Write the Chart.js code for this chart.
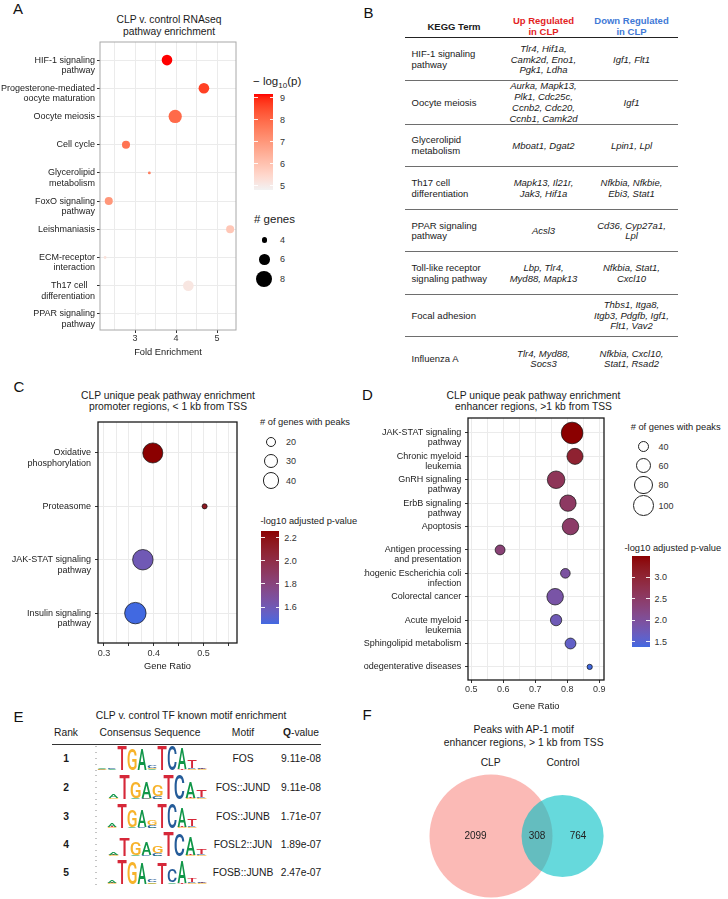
<!DOCTYPE html>
<html>
<head>
<meta charset="utf-8">
<script src="https://cdn.jsdelivr.net/npm/chart.js@4.4.1/dist/chart.umd.min.js"></script>
<style>
html,body{margin:0;padding:0;background:#fff}
body{position:relative;width:728px;height:899px;overflow:hidden;font-family:"Liberation Sans",Arial,Helvetica,sans-serif;color:#1a1a1a}
.t{position:absolute;white-space:pre;line-height:1}
canvas{position:absolute;display:block}
sub{font-size:70%;vertical-align:-0.3em;line-height:0}
</style>
</head>
<body>
<script>
// ================= DATA =================
// Panel A : CLP v. control RNAseq pathway enrichment
const aPathways = [["HIF-1 signaling","pathway"],["Progesterone-mediated","oocyte maturation"],["Oocyte meiosis"],["Cell cycle"],["Glycerolipid","metabolism"],["FoxO signaling","pathway"],["Leishmaniasis"],["ECM-receptor","interaction"],["Th17 cell   ","differentiation"],["PPAR signaling","pathway"]];
const aFoldEnrichment = [3.78,4.68,3.98,2.78,3.35,2.36,5.32,2.27,4.30,3.07];
const aNegLog10P = [9.15,8.65,7.95,7.75,7.55,7.00,5.85,5.20,5.10,4.80];
const aGeneCount = [6,6,7,5,3,5,5,3,6,3];
const aFoldTicks = [3,4,5];
const aSizeBreaks = [4,6,8];
const aColorBreaks = [9,8,7,6,5];

// Panel B : KEGG table
const bTerms = [["HIF-1 signaling","pathway"],["Oocyte meiosis"],["Glycerolipid","metabolism"],["Th17 cell","differentiation"],["PPAR signaling","pathway"],["Toll-like receptor","signaling pathway"],["Focal adhesion"],["Influenza A"]];
const bUp = [["Tlr4, Hif1a,","Camk2d, Eno1,","Pgk1, Ldha"],["Aurka, Mapk13,","Plk1, Cdc25c,","Ccnb2, Cdc20,","Ccnb1, Camk2d"],["Mboat1, Dgat2"],["Mapk13, Il21r,","Jak3, Hif1a"],["Acsl3"],["Lbp, Tlr4,","Myd88, Mapk13"],[],["Tlr4, Myd88,","Socs3"]];
const bDown = [["Igf1, Flt1"],["Igf1"],["Lpin1, Lpl"],["Nfkbia, Nfkbie,","Ebi3, Stat1"],["Cd36, Cyp27a1,","Lpl"],["Nfkbia, Stat1,","Cxcl10"],["Thbs1, Itga8,","Itgb3, Pdgfb, Igf1,","Flt1, Vav2"],["Nfkbia, Cxcl10,","Stat1, Rsad2"]];

// Panel C : promoter regions
const cPathways = [["Oxidative","phosphorylation"],["Proteasome"],["JAK-STAT signaling","pathway"],["Insulin signaling","pathway"]];
const cGeneRatio = [0.398,0.502,0.378,0.363];
const cNegLog10Padj = [2.26,2.15,1.60,1.45];
const cGeneCount = [55,9,57,62];
const cRatioTicks = [0.3,0.4,0.5];
const cSizeBreaks = [20,30,40];
const cColorBreaks = [2.2,2.0,1.8,1.6];

// Panel D : enhancer regions
const dPathways = [["JAK-STAT signaling","pathway"],["Chronic myeloid","leukemia"],["GnRH signaling","pathway"],["ErbB signaling","pathway"],["Apoptosis"],["Antigen processing","and presentation"],["Pathogenic Escherichia coli","infection"],["Colorectal cancer"],["Acute myeloid","leukemia"],["Sphingolipid metabolism"],["Neurodegenterative diseases"]];
const dGeneRatio = [0.815,0.824,0.765,0.802,0.810,0.590,0.794,0.762,0.765,0.810,0.870];
const dNegLog10Padj = [3.50,3.05,2.65,2.55,2.50,2.35,1.95,1.90,1.75,1.60,1.37];
const dGeneCount = [108,66,76,68,69,34,33,69,40,38,20];
const dRatioTicks = [0.5,0.6,0.7,0.8,0.9];
const dSizeBreaks = [40,60,80,100];
const dColorBreaks = [3.0,2.5,2.0,1.5];

// Panel E : known motif enrichment (logo columns: bits for [A,C,G,T])
const eBases = ["A","C","G","T"];
const eRanks = [1,2,3,4,5];
const eMotifs = ["FOS","FOS::JUND","FOS::JUNB","FOSL2::JUN","FOSB::JUNB"];
const eQValues = ["9.11e-08","9.11e-08","1.71e-07","1.89e-07","2.47e-07"];
const eLogoFOS = [[0.06,0.05,0.05,0.04],[0.05,0.07,0.04,0.04],[0.00,0.02,0.03,1.95],[0.03,0.02,1.80,0.00],[1.72,0.03,0.02,0.02],[0.06,0.18,0.12,0.04],[0.00,0.02,0.02,1.95],[0.02,1.93,0.02,0.00],[1.70,0.03,0.02,0.05],[0.05,0.12,0.06,0.62],[0.05,0.08,0.05,0.05]];
const eLogoFOSJUND = [[0.03,0.03,0.03,0.03],[0.30,0.04,0.06,0.04],[0.00,0.02,0.03,1.95],[0.05,0.03,1.30,0.02],[1.30,0.08,0.05,0.02],[0.05,0.20,0.85,0.03],[0.00,0.02,0.02,1.95],[0.02,1.95,0.02,0.00],[1.35,0.05,0.05,0.05],[0.05,0.15,0.05,0.55]];
const eLogoFOSJUNB = [[0.03,0.03,0.03,0.03],[0.30,0.05,0.05,0.05],[0.00,0.02,0.02,1.95],[0.05,0.03,1.45,0.02],[1.45,0.05,0.03,0.02],[0.05,0.20,0.45,0.03],[0.00,0.02,0.02,1.95],[0.02,1.95,0.02,0.00],[1.55,0.05,0.05,0.05],[0.05,0.15,0.05,0.55],[0.04,0.04,0.04,0.04]];
const eLogoFOSL2JUN = [[0.03,0.03,0.03,0.03],[0.22,0.05,0.05,0.05],[0.00,0.02,0.02,1.50],[0.05,0.03,1.05,0.02],[1.05,0.05,0.03,0.02],[0.05,0.20,0.55,0.03],[0.00,0.02,0.02,1.95],[0.02,1.90,0.02,0.00],[1.50,0.05,0.05,0.05],[0.05,0.12,0.05,0.45]];
const eLogoFOSBJUNB = [[0.03,0.03,0.03,0.03],[0.25,0.05,0.05,0.05],[0.00,0.02,0.02,1.95],[0.03,0.02,1.85,0.00],[1.70,0.03,0.02,0.02],[0.05,0.18,0.12,0.04],[0.00,0.02,0.02,1.70],[0.15,1.10,0.05,0.00],[1.80,0.03,0.02,0.05],[0.05,0.08,0.05,0.35],[0.05,0.06,0.05,0.05]];
const eLogos = [eLogoFOS,eLogoFOSJUND,eLogoFOSJUNB,eLogoFOSL2JUN,eLogoFOSBJUNB];

// Panel F : Venn of peaks with AP-1 motif
const fSets = ["CLP","Control"];
const fUnique = [2099,764];
const fShared = 308;

// ================= HELPERS =================
Chart.defaults.font.family = '"Liberation Sans", Arial, sans-serif';
Chart.defaults.color = '#333';

function T(html, x, y, o = {}) {
  const d = document.createElement('div');
  d.className = 't';
  d.innerHTML = html;
  const s = d.style;
  s.fontSize = (o.size || 9.5) + 'px';
  if (o.bold) s.fontWeight = 'bold';
  if (o.italic) s.fontStyle = 'italic';
  s.color = o.color || '#1a1a1a';
  s.top = y + 'px';
  const al = o.align || 'c';
  if (al === 'c') { s.left = x + 'px'; s.transform = 'translate(-50%,-50%)'; }
  else if (al === 'l') { s.left = x + 'px'; s.transform = 'translateY(-50%)'; }
  else { s.right = (728 - x) + 'px'; s.transform = 'translateY(-50%)'; }
  document.body.appendChild(d);
  return d;
}
function HL(x0, x1, y, color, h) {
  const d = document.createElement('div');
  d.style.cssText = `position:absolute;left:${x0}px;top:${y}px;width:${x1 - x0}px;height:${h || 1}px;background:${color}`;
  document.body.appendChild(d);
}
function mkCanvas(left, top, w, h) {
  const c = document.createElement('canvas');
  c.width = w; c.height = h;
  c.style.left = left + 'px'; c.style.top = top + 'px';
  c.style.width = w + 'px'; c.style.height = h + 'px';
  document.body.appendChild(c);
  return c;
}
function circleDiv(cx, cy, r, fill, stroke, sw) {
  const d = document.createElement('div');
  d.style.cssText = `position:absolute;left:${cx - r}px;top:${cy - r}px;width:${2 * r}px;height:${2 * r}px;border-radius:50%;background:${fill};box-sizing:border-box;border:${sw}px solid ${stroke}`;
  document.body.appendChild(d);
}
// Lab colour interpolation (as ggplot gradients)
function s2l(c) { c /= 255; return c <= 0.04045 ? c / 12.92 : Math.pow((c + 0.055) / 1.055, 2.4); }
function l2s(c) { c = c <= 0.0031308 ? 12.92 * c : 1.055 * Math.pow(c, 1 / 2.4) - 0.055; return Math.round(Math.max(0, Math.min(1, c)) * 255); }
const WP = [0.95047, 1, 1.08883];
function rgb2lab(rgb) {
  const [R, G, B] = rgb.map(s2l);
  const X = (0.4124 * R + 0.3576 * G + 0.1805 * B) / WP[0];
  const Y = (0.2126 * R + 0.7152 * G + 0.0722 * B) / WP[1];
  const Z = (0.0193 * R + 0.1192 * G + 0.9505 * B) / WP[2];
  const f = t => t > 0.008856 ? Math.cbrt(t) : 7.787 * t + 16 / 116;
  const fx = f(X), fy = f(Y), fz = f(Z);
  return [116 * fy - 16, 500 * (fx - fy), 200 * (fy - fz)];
}
function lab2rgb([L, a, b]) {
  const fy = (L + 16) / 116, fx = fy + a / 500, fz = fy - b / 200;
  const fi = t => t > 0.206893 ? t * t * t : (t - 16 / 116) / 7.787;
  const X = fi(fx) * WP[0], Y = fi(fy) * WP[1], Z = fi(fz) * WP[2];
  const R = 3.2406 * X - 1.5372 * Y - 0.4986 * Z;
  const G = -0.9689 * X + 1.8758 * Y + 0.0415 * Z;
  const B = 0.0557 * X - 0.2040 * Y + 1.0570 * Z;
  return [l2s(R), l2s(G), l2s(B)];
}
function gradient(low, high, vmin, vmax) {
  const A = rgb2lab(low), B = rgb2lab(high);
  return v => {
    let t = (v - vmin) / (vmax - vmin); t = Math.max(0, Math.min(1, t));
    const [r, g, b] = lab2rgb([0, 1, 2].map(i => A[i] + (B[i] - A[i]) * t));
    return `rgb(${r},${g},${b})`;
  };
}
const near = (v, arr) => arr.some(a => Math.abs(a - v) < 1e-6);
const isMult = (v, m) => Math.abs(v / m - Math.round(v / m)) < 1e-6;

const framePlugin = {
  id: 'frame',
  afterDatasetsDraw(chart, args, o) {
    if (!o || !o.color) return;
    const a = chart.chartArea, c = chart.ctx;
    c.save(); c.strokeStyle = o.color; c.lineWidth = o.width;
    c.strokeRect(a.left, a.top, a.right - a.left, a.bottom - a.top);
    c.restore();
  }
};

function bubbleChart(el, o) {
  const pts = o.xs.map((x, i) => ({ x: x, y: i, v: o.vs[i], g: o.gs[i] }));
  return new Chart(el, {
    type: 'bubble',
    data: { datasets: [{
      data: pts,
      radius: c => o.rad(c.raw.g),
      backgroundColor: c => o.col(c.raw.v),
      borderColor: o.pointBorder || 'rgba(0,0,0,0)',
      borderWidth: o.pointBorderWidth || 0
    }] },
    options: {
      responsive: false, animation: false, events: [], devicePixelRatio: 1,
      layout: { padding: o.pad, autoPadding: false },
      plugins: { legend: { display: false }, tooltip: { enabled: false }, frame: { color: o.frameColor, width: o.frameWidth } },
      scales: {
        x: {
          type: 'linear', position: 'bottom', min: o.xmin, max: o.xmax,
          afterFit: s => { s.height = o.xh; s.paddingLeft = 0; s.paddingRight = 0; },
          border: { display: false },
          grid: { color: o.gridColor, lineWidth: 1, tickLength: 3, tickColor: c => o.xTickMark(c.tick.value) ? '#333' : 'rgba(0,0,0,0)' },
          ticks: { stepSize: o.xStep, includeBounds: false, autoSkip: false, maxRotation: 0, padding: o.xTickPad, color: '#333', font: { size: 9 }, callback: v => o.xLabel(v) },
          title: { display: true, text: o.xTitle, color: '#1a1a1a', font: { size: 9.3 }, padding: { top: 0, bottom: o.xTitlePb } }
        },
        y: {
          type: 'linear', reverse: true, min: o.ymin, max: o.ymax,
          afterFit: s => { s.width = o.yw; s.paddingTop = 0; s.paddingBottom = 0; },
          border: { display: false },
          grid: { color: o.gridColor, lineWidth: 1, tickLength: 3, tickColor: '#333' },
          ticks: { stepSize: 1, includeBounds: false, autoSkip: false, padding: o.yTickPad, color: '#222', font: { size: 9, lineHeight: o.lh },
            callback: v => { const L = o.labels[Math.round(v)]; if (!L) return ''; return L.length > 1 ? [''].concat(L) : L[0]; } }
        }
      }
    },
    plugins: [framePlugin]
  });
}
function colorbar(x0, x1, y0, y1, vmin, vmax, colFn, breaks, fmt, labelX) {
  const d = document.createElement('div');
  const stops = [];
  for (let i = 0; i <= 30; i++) { const v = vmax - (vmax - vmin) * i / 30; stops.push(`${colFn(v)} ${(i * 100 / 30).toFixed(2)}%`); }
  d.style.cssText = `position:absolute;left:${x0}px;top:${y0}px;width:${x1 - x0}px;height:${y1 - y0}px;background:linear-gradient(to bottom,${stops.join(',')})`;
  document.body.appendChild(d);
  breaks.forEach(b => {
    const y = y0 + (vmax - b) / (vmax - vmin) * (y1 - y0);
    const w = (x1 - x0) * 0.2;
    HL(x0, x0 + w, y - 0.5, 'rgba(255,255,255,0.9)');
    HL(x1 - w, x1, y - 0.5, 'rgba(255,255,255,0.9)');
    T(fmt(b), labelX, y, { align: 'l', size: 9, color: '#333' });
  });
}

// ================= PANEL LETTERS =================
T('A', 18, 8, { size: 15, color: '#111' });
T('B', 368.5, 12, { size: 15, color: '#111' });
T('C', 19, 385.5, { size: 15, color: '#111' });
T('D', 367.5, 393.5, { size: 15, color: '#111' });
T('E', 18.5, 715.5, { size: 15, color: '#111' });
T('F', 367, 714, { size: 15, color: '#111' });

// ================= PANEL A =================
T('CLP v. control RNAseq', 169, 20, { size: 10.3 });
T('pathway enrichment', 169, 32, { size: 10.3 });
const sizeA = g => 1.3 * (g - 1.9);
const aMin = Math.min(...aNegLog10P), aMax = Math.max(...aNegLog10P);
const colA = gradient([242, 242, 242], [255, 0, 0], aMin, aMax);
bubbleChart(mkCanvas(0, 40, 250, 325), {
  labels: aPathways, xs: aFoldEnrichment, vs: aNegLog10P, gs: aGeneCount, rad: sizeA, col: colA,
  xmin: 2.146, xmax: 5.463, ymin: -0.64, ymax: 9.57, yw: 100, xh: 35, pad: { top: 2, right: 14, left: 0, bottom: 0 },
  xStep: 0.5, xTickMark: v => near(v, aFoldTicks), xLabel: v => near(v, aFoldTicks) ? String(Math.round(v)) : '',
  xTitle: 'Fold Enrichment', xTickPad: 0.6, xTitlePb: 7.4, yTickPad: 2, lh: 1.15,
  gridColor: '#ebebeb', frameColor: '#a8a8a8', frameWidth: 1
});
T('\u2212 log<sub>10</sub>(p)', 253, 82, { align: 'l', size: 11.5 });
colorbar(254.3, 273.3, 94.3, 190, aMin, aMax, colA, aColorBreaks, v => String(v), 280);
T('# genes', 254, 220, { align: 'l', size: 11.5 });
aSizeBreaks.forEach((g, i) => {
  const y = [240, 259.3, 279][i];
  circleDiv(264.3, y, sizeA(g), '#000', '#000', 0);
  T(String(g), 280, y, { align: 'l', size: 9, color: '#333' });
});

// ================= PANEL B =================
T('KEGG Term', 454, 27, { size: 9.5, bold: true });
T('Up Regulated', 543.5, 21, { size: 9.5, bold: true, color: '#e3231f' });
T('in CLP', 543.5, 32, { size: 9.5, bold: true, color: '#e3231f' });
T('Down Regulated', 631.5, 21, { size: 9.5, bold: true, color: '#4179d6' });
T('in CLP', 631.5, 32, { size: 9.5, bold: true, color: '#4179d6' });
HL(405, 678, 37, '#222', 1);
const bRowCenters = [59.5, 102.5, 145.5, 188.5, 231, 273.5, 315.5, 359];
const bRowLines = [80, 124, 166.5, 209, 251.5, 294, 336.5];
const bLH = 10.8;
bRowLines.forEach(y => HL(405, 678, y - 0.5, '#6e6e6e', 1.3));
function cellLines(lines, x, yc, opts) {
  lines.forEach((s, k) => T(s, x, yc + (k - (lines.length - 1) / 2) * bLH, opts));
}
bTerms.forEach((lines, i) => {
  cellLines(lines, 411.5, bRowCenters[i], { align: 'l', size: 9.5 });
  cellLines(bUp[i], 543.5, bRowCenters[i], { size: 9.5, italic: true });
  cellLines(bDown[i], 631.5, bRowCenters[i], { size: 9.5, italic: true });
});

// ================= PANEL C =================
T('CLP unique peak pathway enrichment', 168, 395.7, { size: 10.3 });
T('promoter regions, &lt; 1 kb from TSS', 168, 407.3, { size: 10.3 });
const sizeC = g => Math.sqrt(Math.max(1, 2.05 * g - 12));
const cMin = Math.min(...cNegLog10Padj), cMax = Math.max(...cNegLog10Padj);
const colC = gradient([65, 105, 225], [139, 0, 0], cMin, cMax);
bubbleChart(mkCanvas(0, 415, 250, 260), {
  labels: cPathways, xs: cGeneRatio, vs: cNegLog10Padj, gs: cGeneCount, rad: sizeC, col: colC,
  pointBorder: '#111', pointBorderWidth: 0.7,
  xmin: 0.288, xmax: 0.567, ymin: -0.58, ymax: 3.56, yw: 98, xh: 32, pad: { top: 7, right: 13, left: 0, bottom: 0 },
  xStep: 0.025, xTickMark: v => isMult(v, 0.05), xLabel: v => near(v, cRatioTicks) ? v.toFixed(1) : '',
  xTitle: 'Gene Ratio', xTickPad: 2.6, xTitlePb: 3.1, yTickPad: 4, lh: 1.17,
  gridColor: '#ebebeb', frameColor: '#1a1a1a', frameWidth: 1.3
});
T('# of genes with peaks', 260, 423.3, { align: 'l', size: 9.3 });
cSizeBreaks.forEach((g, i) => {
  const y = [442, 461, 480.5][i];
  circleDiv(271, y, sizeC(g), '#fff', '#222', 0.8);
  T(String(g), 286, y, { align: 'l', size: 9, color: '#333' });
});
T('-log10 adjusted p-value', 260.5, 522, { align: 'l', size: 9.3 });
colorbar(261, 279.3, 531, 624.3, cMin, cMax, colC, cColorBreaks, v => v.toFixed(1), 284.3);

// ================= PANEL D =================
T('CLP unique peak pathway enrichment', 533.5, 395.7, { size: 10.3 });
T('enhancer regions, &gt;1 kb from TSS', 533.5, 407.3, { size: 10.3 });
const sizeD = g => Math.sqrt(Math.max(1, 1.25 * g - 18));
const dMin = Math.min(...dNegLog10Padj), dMax = Math.max(...dNegLog10Padj);
const colD = gradient([65, 105, 225], [139, 0, 0], dMin, dMax);
bubbleChart(mkCanvas(364, 410, 250, 305), {
  labels: dPathways, xs: dGeneRatio, vs: dNegLog10Padj, gs: dGeneCount, rad: sizeD, col: colD,
  pointBorder: '#111', pointBorderWidth: 0.7,
  xmin: 0.4897, xmax: 0.9147, ymin: -0.64, ymax: 10.56, yw: 104, xh: 35, pad: { top: 8, right: 10, left: 0, bottom: 0 },
  xStep: 0.05, xTickMark: v => near(v, dRatioTicks), xLabel: v => near(v, dRatioTicks) ? v.toFixed(1) : '',
  xTitle: 'Gene Ratio', xTickPad: 1.6, xTitlePb: 3.4, yTickPad: 3.7, lh: 1.11,
  gridColor: '#ebebeb', frameColor: '#1a1a1a', frameWidth: 1.3
});
T('# of genes with peaks', 630.7, 428.3, { align: 'l', size: 9.3 });
dSizeBreaks.forEach((g, i) => {
  const y = [446.5, 465.5, 485, 505.5][i];
  circleDiv(643.5, y, sizeD(g), '#fff', '#222', 0.8);
  T(String(g), 658.5, y, { align: 'l', size: 9, color: '#333' });
});
T('-log10 adjusted p-value', 624.5, 549.3, { align: 'l', size: 9.3 });
colorbar(631.7, 650, 556, 647.3, dMin, dMax, colD, dColorBreaks, v => v.toFixed(1), 654.5);

// ================= PANEL E =================
T('CLP v. control TF known motif enrichment', 191, 716, { size: 10.3 });
T('Rank', 66, 733, { size: 10.3 });
T('Consensus Sequence', 150, 733, { size: 10.3 });
T('Motif', 243, 733, { size: 10.3 });
T('<b>Q</b>-value', 301, 733, { size: 10.3 });
HL(52, 321, 744, '#333', 1);
const eRowY = [759.3, 787.7, 816.7, 845.3, 873.3];
const logoColors = { A: '#109648', C: '#255C99', G: '#F7B32B', T: '#D62839' };
function drawLetter(ctx, ch, x0, y0, x1, y1) {
  const h = y1 - y0, w = x1 - x0;
  if (h < 0.35 || w <= 0) return;
  ctx.save();
  ctx.font = '500 100px Roboto, "Liberation Sans", sans-serif';
  ctx.textAlign = 'left'; ctx.textBaseline = 'alphabetic';
  const m = ctx.measureText(ch);
  const gw = m.actualBoundingBoxLeft + m.actualBoundingBoxRight;
  const gh = m.actualBoundingBoxAscent + m.actualBoundingBoxDescent;
  ctx.translate(x0, y0);
  ctx.scale(w / gw, h / gh);
  ctx.fillStyle = logoColors[ch];
  ctx.fillText(ch, m.actualBoundingBoxLeft, m.actualBoundingBoxAscent);
  ctx.restore();
}
const letterPlugin = {
  id: 'letters',
  afterDatasetsDraw(chart) {
    const ctx = chart.ctx;
    chart.data.datasets.forEach((ds, di) => {
      chart.getDatasetMeta(di).data.forEach((bar, j) => {
        const p = bar.getProps(['x', 'y', 'base', 'width'], true);
        drawLetter(ctx, ds.letters[j], p.x - p.width / 2, p.y, p.x + p.width / 2, p.base);
      });
    });
  }
};
function logoChart(el, cols) {
  const ranks = [0, 1, 2, 3].map(() => ({ letters: [], data: [] }));
  cols.forEach(col => {
    const order = [0, 1, 2, 3].sort((a, b) => col[a] - col[b]);
    order.forEach((bi, k) => { ranks[k].letters.push(eBases[bi]); ranks[k].data.push(col[bi]); });
  });
  return new Chart(el, {
    type: 'bar',
    data: { labels: cols.map((_, i) => String(i + 1)), datasets: ranks.map(r => ({ data: r.data, letters: r.letters, backgroundColor: 'rgba(0,0,0,0)', borderWidth: 0, barPercentage: 1, categoryPercentage: 0.9 })) },
    options: {
      responsive: false, animation: false, events: [], devicePixelRatio: 1,
      layout: { padding: { top: 2.2, bottom: 1.3, right: 3, left: 0 }, autoPadding: false },
      plugins: { legend: { display: false }, tooltip: { enabled: false } },
      scales: {
        x: { stacked: true, display: false },
        y: { stacked: true, min: 0, max: 2, afterFit: s => { s.width = 13; s.paddingTop = 0; s.paddingBottom = 0; }, border: { display: false },
          ticks: { display: false, stepSize: 0.5 },
          grid: { drawOnChartArea: false, tickLength: 2, tickColor: '#c4c4c4', color: '#c4c4c4' } }
      }
    },
    plugins: [letterPlugin]
  });
}
eRanks.forEach((rk, i) => {
  const y = eRowY[i];
  T(String(rk), 66, y, { size: 10.3, bold: true });
  T(eMotifs[i], 243, y, { size: 10.3 });
  T(eQValues[i], 301, y, { size: 10.3 });
  logoChart(mkCanvas(84, y - 15, 126, 28), eLogos[i]);
});

// ================= PANEL F =================
T('Peaks with AP-1 motif', 523.7, 730, { size: 10.3 });
T('enhancer regions, &gt; 1 kb from TSS', 523.7, 743.3, { size: 10.3 });
T(fSets[0], 490.7, 763.3, { size: 10.3 });
T(fSets[1], 563, 763.3, { size: 10.3 });
// area-proportional circles: radius (in data units) from set sizes, centre distance solved from the shared count
const fR1 = Math.sqrt((fUnique[0] + fShared) / Math.PI);
const fR2 = Math.sqrt((fUnique[1] + fShared) / Math.PI);
function lensArea(d) {
  if (d >= fR1 + fR2) return 0;
  if (d <= Math.abs(fR1 - fR2)) return Math.PI * Math.min(fR1, fR2) ** 2;
  const a = fR1 * fR1 * Math.acos((d * d + fR1 * fR1 - fR2 * fR2) / (2 * d * fR1));
  const b = fR2 * fR2 * Math.acos((d * d + fR2 * fR2 - fR1 * fR1) / (2 * d * fR2));
  const c = 0.5 * Math.sqrt((-d + fR1 + fR2) * (d + fR1 - fR2) * (d - fR1 + fR2) * (d + fR1 + fR2));
  return a + b - c;
}
let lo = Math.abs(fR1 - fR2), hi = fR1 + fR2;
for (let i = 0; i < 80; i++) { const m = (lo + hi) / 2; if (lensArea(m) > fShared) lo = m; else hi = m; }
const fDist = (lo + hi) / 2;
const vennPx = 61.5 / fR1; // pixels per data unit (same on both axes)
const vennLabels = {
  id: 'vennLabels',
  afterDatasetsDraw(chart) {
    const ctx = chart.ctx, sx = chart.scales.x, sy = chart.scales.y;
    const xs = [(-fR1 + fDist - fR2) / 2, (fDist - fR2 + fR1) / 2, (fR1 + fDist + fR2) / 2];
    const txt = [fUnique[0], fShared, fUnique[1]];
    ctx.save();
    ctx.font = '10px "Liberation Sans", Arial, sans-serif';
    ctx.fillStyle = '#222'; ctx.textAlign = 'center'; ctx.textBaseline = 'middle';
    xs.forEach((x, i) => ctx.fillText(String(txt[i]), sx.getPixelForValue(x), sy.getPixelForValue(0)));
    ctx.restore();
  }
};
new Chart(mkCanvas(400, 750, 250, 149), {
  type: 'bubble',
  data: { datasets: [
    { label: fSets[1], data: [{ x: fDist, y: 0, r: fR2 * vennPx }], backgroundColor: 'rgba(0,191,196,0.6)', borderWidth: 0 },
    { label: fSets[0], data: [{ x: 0, y: 0, r: fR1 * vennPx }], backgroundColor: 'rgba(248,118,109,0.5)', borderWidth: 0 }
  ] },
  options: {
    responsive: false, animation: false, events: [], devicePixelRatio: 1,
    layout: { padding: 0, autoPadding: false },
    plugins: { legend: { display: false }, tooltip: { enabled: false } },
    scales: {
      x: { display: false, min: -91 / vennPx, max: 159 / vennPx },
      y: { display: false, min: -63 / vennPx, max: 86 / vennPx }
    }
  },
  plugins: [vennLabels]
});
</script>
</body>
</html>
